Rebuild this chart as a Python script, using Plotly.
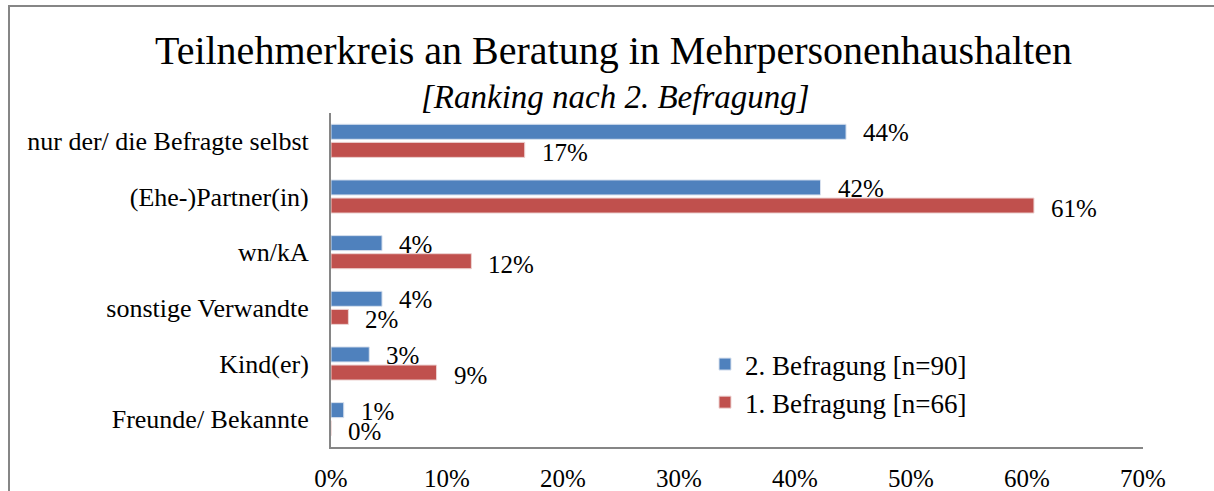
import plotly.graph_objects as go

categories = ["nur der/ die Befragte selbst", "(Ehe-)Partner(in)", "wn/kA",
              "sonstige Verwandte", "Kind(er)", "Freunde/ Bekannte"]
befragung2 = [0.444, 0.422, 0.044, 0.044, 0.033, 0.011]
befragung1 = [0.167, 0.606, 0.121, 0.015, 0.091, 0.0]
labels2 = ["44%", "42%", "4%", "4%", "3%", "1%"]
labels1 = ["17%", "61%", "12%", "2%", "9%", "0%"]
series_names = ["2. Befragung [n=90]", "1. Befragung [n=66]"]
x_ticks = [0, 0.1, 0.2, 0.3, 0.4, 0.5, 0.6, 0.7]
x_ticklabels = ["0%", "10%", "20%", "30%", "40%", "50%", "60%", "70%"]

FONT = "Liberation Serif"
BLUE = "#4F81BD"
RED = "#C0504D"
GRAY = "#868686"

W, H = 1214, 491
L, R, T, B = 331, 71, 113, 44

fig = go.Figure()
fig.add_trace(go.Bar(y=categories, x=befragung2, orientation="h", name=series_names[0],
                     marker=dict(color=BLUE, line=dict(color="#D8E1EE", width=1))))
fig.add_trace(go.Bar(y=categories, x=befragung1, orientation="h", name=series_names[1],
                     marker=dict(color=RED, line=dict(color="#EDD3D2", width=1))))

annotations = []
for cat, v, t in zip(categories, befragung2, labels2):
    annotations.append(dict(x=v, y=cat, xref="x", yref="y", text=t, showarrow=False,
                            xanchor="left", yanchor="middle", xshift=15, yshift=8,
                            font=dict(family=FONT, size=25, color="black")))
for cat, v, t in zip(categories, befragung1, labels1):
    annotations.append(dict(x=v, y=cat, xref="x", yref="y", text=t, showarrow=False,
                            xanchor="left", yanchor="middle", xshift=15, yshift=-12,
                            font=dict(family=FONT, size=25, color="black")))

pw, ph = W - L - R, H - T - B
annotations.append(dict(x=(613 - L) / pw, y=(H - B - 50) / ph, xref="paper", yref="paper",
                        text="Teilnehmerkreis an Beratung in Mehrpersonenhaushalten",
                        showarrow=False, xanchor="center", yanchor="middle",
                        font=dict(family=FONT, size=40, color="black")))
annotations.append(dict(x=(615 - L) / pw, y=(H - B - 97) / ph, xref="paper", yref="paper",
                        text="<i>[Ranking nach 2. Befragung]</i>",
                        showarrow=False, xanchor="center", yanchor="middle",
                        font=dict(family=FONT, size=33, color="black")))

fig.update_layout(
    width=W, height=H,
    margin=dict(l=L, r=R, t=T, b=B, pad=0, autoexpand=False),
    paper_bgcolor="white", plot_bgcolor="white",
    barmode="group", bargap=0.35, bargroupgap=0.17,
    font=dict(family=FONT, size=25, color="black"),
    showlegend=True,
    legend=dict(x=(705 - L) / pw, y=(H - B - 340) / ph, xanchor="left", yanchor="top",
                bgcolor="rgba(0,0,0,0)", font=dict(family=FONT, size=27),
                traceorder="normal"),
    annotations=annotations,
    shapes=[dict(type="rect", xref="paper", yref="paper",
                 x0=(9 - L) / pw, x1=(1300 - L) / pw,
                 y0=(H - B - 560) / ph, y1=(H - B - 6) / ph,
                 line=dict(color=GRAY, width=2), fillcolor="rgba(0,0,0,0)", layer="above")],
)
fig.update_xaxes(range=[0, 0.7], tickvals=x_ticks, ticktext=x_ticklabels, automargin=False,
                 showgrid=False, zeroline=False, showline=True, linecolor=GRAY, linewidth=2,
                 ticks="", ticklabelstandoff=8, tickfont=dict(family=FONT, size=25))
fig.update_yaxes(autorange="reversed", automargin=False, showgrid=False, zeroline=False,
                 showline=True, linecolor=GRAY, linewidth=2, ticks="", ticklabelstandoff=15,
                 tickfont=dict(family=FONT, size=26))

fig.write_html("out.html", post_script="document.body.style.margin='0px';",
               config={"displayModeBar": False})
